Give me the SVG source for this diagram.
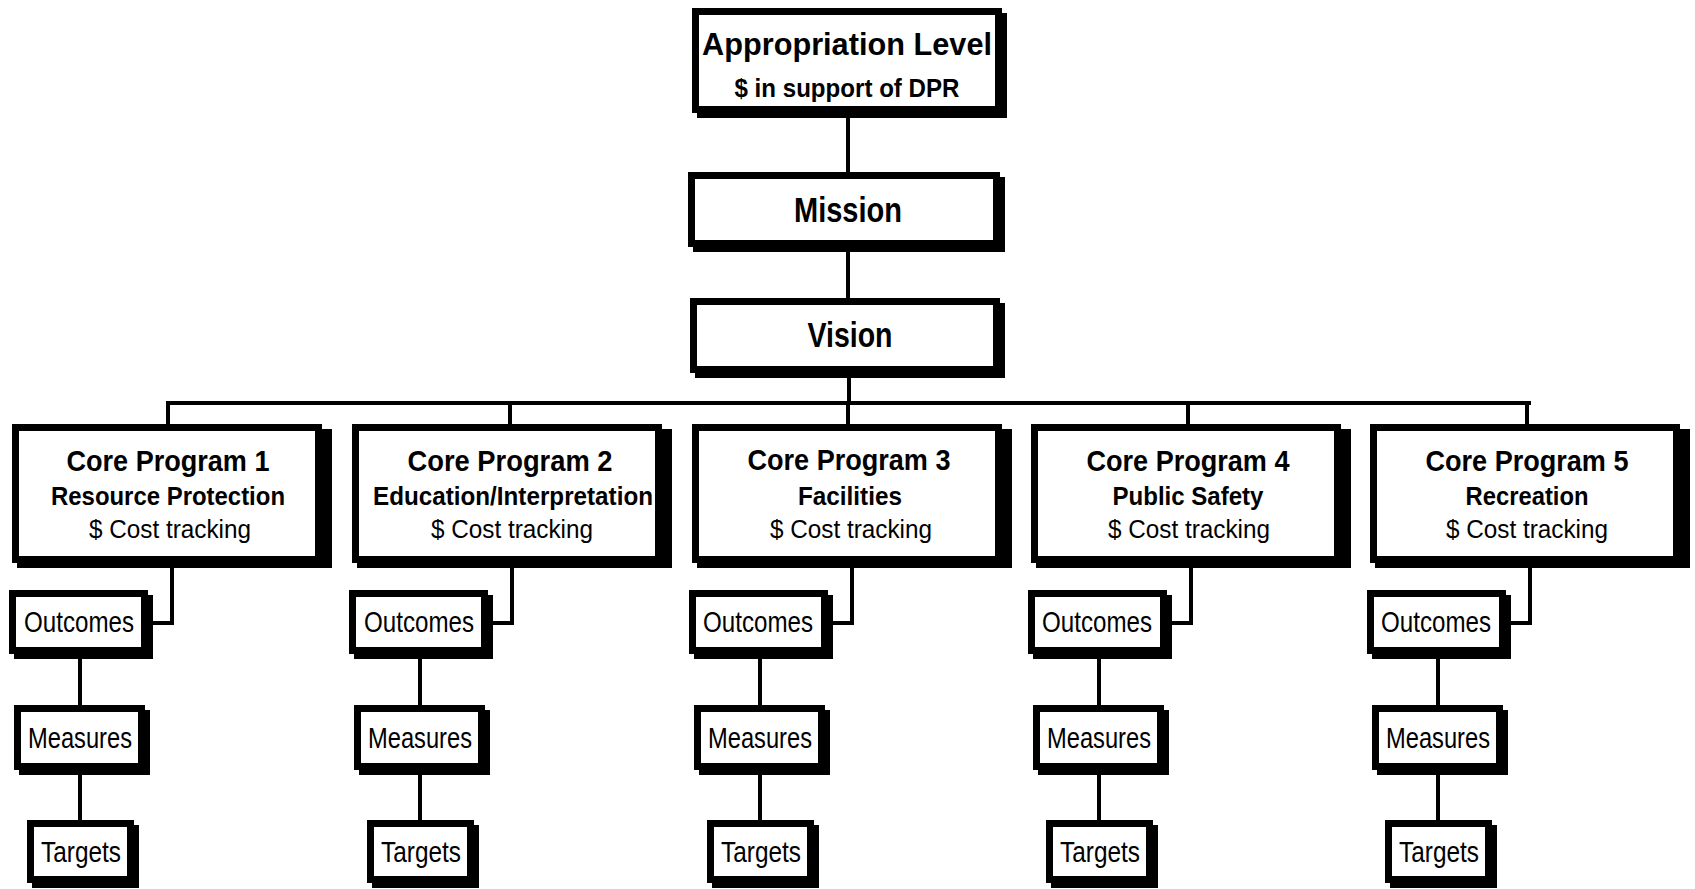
<svg xmlns="http://www.w3.org/2000/svg" width="1695" height="889" viewBox="0 0 1695 889">
<style>
.bg{fill:#fff}
.sh{fill:#000}
.bx{fill:#fff;stroke:#000;stroke-width:7}
.conn{stroke:#000;stroke-width:4;fill:none;stroke-linecap:square}
text{font-family:"Liberation Sans",Arial,sans-serif;fill:#000;text-anchor:middle}
.t1{font-size:32px;font-weight:bold}
.t2{font-size:26px;font-weight:bold}
.tm{font-size:35px;font-weight:bold}
.cp{font-size:30px;font-weight:bold}
.cs{font-size:26px;font-weight:bold}
.cr{font-size:26px}
.sm{font-size:29px}
</style>
<rect class="bg" x="0" y="0" width="1695" height="889"/>
<g id="connectors">
<path class="conn" d="M848 116V176M848 250V302M849 376V403M168 403H1529M168 403V428M510 403V428M848 403V428M1188 403V428M1527 403V428"/>
<path class="conn" d="M172 566V623H150M512 566V623H490M852 566V623H830M1191 566V623H1169M1530 566V623H1508"/>
<path class="conn" d="M80 657V707M80 773V822M420 657V707M420 773V822M760 657V707M760 773V822M1099 657V707M1099 773V822M1438 657V707M1438 773V822"/>
</g>
<g id="appropriation">
<rect class="sh" x="697" y="13" width="310" height="105"/>
<rect class="bx" x="695.5" y="11.5" width="303" height="98"/>
<text class="t1" x="847" y="55" textLength="290" lengthAdjust="spacingAndGlyphs">Appropriation Level</text>
<text class="t2" x="847" y="97" textLength="225" lengthAdjust="spacingAndGlyphs">$ in support of DPR</text>
</g>
<g id="mission">
<rect class="sh" x="693" y="177" width="312" height="75"/>
<rect class="bx" x="691.5" y="175.5" width="305" height="68"/>
<text class="tm" x="848" y="222" textLength="108" lengthAdjust="spacingAndGlyphs">Mission</text>
</g>
<g id="vision">
<rect class="sh" x="695" y="303" width="310" height="75"/>
<rect class="bx" x="693.5" y="301.5" width="303" height="68"/>
<text class="tm" x="850" y="347" textLength="85" lengthAdjust="spacingAndGlyphs">Vision</text>
</g>
<g id="cp1">
<rect class="sh" x="17" y="429" width="315" height="139"/>
<rect class="bx" x="15.5" y="427.5" width="303" height="132"/>
<text class="cp" x="168" y="471" textLength="203" lengthAdjust="spacingAndGlyphs">Core Program 1</text>
<text class="cs" x="168" y="505" textLength="234" lengthAdjust="spacingAndGlyphs">Resource Protection</text>
<text class="cr" x="170" y="538" textLength="162" lengthAdjust="spacingAndGlyphs">$ Cost tracking</text>
</g>
<g id="cp2">
<rect class="sh" x="357" y="429" width="315" height="139"/>
<rect class="bx" x="355.5" y="427.5" width="303" height="132"/>
<text class="cp" x="510" y="471" textLength="205" lengthAdjust="spacingAndGlyphs">Core Program 2</text>
<text class="cs" x="513" y="505" textLength="280" lengthAdjust="spacingAndGlyphs">Education/Interpretation</text>
<text class="cr" x="512" y="538" textLength="162" lengthAdjust="spacingAndGlyphs">$ Cost tracking</text>
</g>
<g id="cp3">
<rect class="sh" x="697" y="429" width="315" height="139"/>
<rect class="bx" x="695.5" y="427.5" width="303" height="132"/>
<text class="cp" x="849" y="470" textLength="203" lengthAdjust="spacingAndGlyphs">Core Program 3</text>
<text class="cs" x="850" y="505" textLength="104" lengthAdjust="spacingAndGlyphs">Facilities</text>
<text class="cr" x="851" y="538" textLength="162" lengthAdjust="spacingAndGlyphs">$ Cost tracking</text>
</g>
<g id="cp4">
<rect class="sh" x="1036" y="429" width="315" height="139"/>
<rect class="bx" x="1034.5" y="427.5" width="303" height="132"/>
<text class="cp" x="1188" y="471" textLength="203" lengthAdjust="spacingAndGlyphs">Core Program 4</text>
<text class="cs" x="1188" y="505" textLength="151" lengthAdjust="spacingAndGlyphs">Public Safety</text>
<text class="cr" x="1189" y="538" textLength="162" lengthAdjust="spacingAndGlyphs">$ Cost tracking</text>
</g>
<g id="cp5">
<rect class="sh" x="1375" y="429" width="315" height="139"/>
<rect class="bx" x="1373.5" y="427.5" width="303" height="132"/>
<text class="cp" x="1527" y="471" textLength="203" lengthAdjust="spacingAndGlyphs">Core Program 5</text>
<text class="cs" x="1527" y="505" textLength="123" lengthAdjust="spacingAndGlyphs">Recreation</text>
<text class="cr" x="1527" y="538" textLength="162" lengthAdjust="spacingAndGlyphs">$ Cost tracking</text>
</g>
<g id="outcomes1">
<rect class="sh" x="14" y="595" width="139" height="64"/>
<rect class="bx" x="12.5" y="593.5" width="132" height="57"/>
<text class="sm" x="79" y="632" textLength="110" lengthAdjust="spacingAndGlyphs">Outcomes</text>
</g>
<g id="measures1">
<rect class="sh" x="19" y="710" width="131" height="65"/>
<rect class="bx" x="17.5" y="708.5" width="124" height="58"/>
<text class="sm" x="80" y="748" textLength="104" lengthAdjust="spacingAndGlyphs">Measures</text>
</g>
<g id="targets1">
<rect class="sh" x="32" y="825" width="107" height="63"/>
<rect class="bx" x="30.5" y="823.5" width="100" height="56"/>
<text class="sm" x="81" y="862" textLength="80" lengthAdjust="spacingAndGlyphs">Targets</text>
</g>
<g id="outcomes2">
<rect class="sh" x="354" y="595" width="139" height="64"/>
<rect class="bx" x="352.5" y="593.5" width="132" height="57"/>
<text class="sm" x="419" y="632" textLength="110" lengthAdjust="spacingAndGlyphs">Outcomes</text>
</g>
<g id="measures2">
<rect class="sh" x="359" y="710" width="131" height="65"/>
<rect class="bx" x="357.5" y="708.5" width="124" height="58"/>
<text class="sm" x="420" y="748" textLength="104" lengthAdjust="spacingAndGlyphs">Measures</text>
</g>
<g id="targets2">
<rect class="sh" x="372" y="825" width="107" height="63"/>
<rect class="bx" x="370.5" y="823.5" width="100" height="56"/>
<text class="sm" x="421" y="862" textLength="80" lengthAdjust="spacingAndGlyphs">Targets</text>
</g>
<g id="outcomes3">
<rect class="sh" x="694" y="595" width="139" height="64"/>
<rect class="bx" x="692.5" y="593.5" width="132" height="57"/>
<text class="sm" x="758" y="632" textLength="110" lengthAdjust="spacingAndGlyphs">Outcomes</text>
</g>
<g id="measures3">
<rect class="sh" x="699" y="710" width="131" height="65"/>
<rect class="bx" x="697.5" y="708.5" width="124" height="58"/>
<text class="sm" x="760" y="748" textLength="104" lengthAdjust="spacingAndGlyphs">Measures</text>
</g>
<g id="targets3">
<rect class="sh" x="712" y="825" width="107" height="63"/>
<rect class="bx" x="710.5" y="823.5" width="100" height="56"/>
<text class="sm" x="761" y="862" textLength="80" lengthAdjust="spacingAndGlyphs">Targets</text>
</g>
<g id="outcomes4">
<rect class="sh" x="1033" y="595" width="139" height="64"/>
<rect class="bx" x="1031.5" y="593.5" width="132" height="57"/>
<text class="sm" x="1097" y="632" textLength="110" lengthAdjust="spacingAndGlyphs">Outcomes</text>
</g>
<g id="measures4">
<rect class="sh" x="1038" y="710" width="131" height="65"/>
<rect class="bx" x="1036.5" y="708.5" width="124" height="58"/>
<text class="sm" x="1099" y="748" textLength="104" lengthAdjust="spacingAndGlyphs">Measures</text>
</g>
<g id="targets4">
<rect class="sh" x="1051" y="825" width="107" height="63"/>
<rect class="bx" x="1049.5" y="823.5" width="100" height="56"/>
<text class="sm" x="1100" y="862" textLength="80" lengthAdjust="spacingAndGlyphs">Targets</text>
</g>
<g id="outcomes5">
<rect class="sh" x="1372" y="595" width="139" height="64"/>
<rect class="bx" x="1370.5" y="593.5" width="132" height="57"/>
<text class="sm" x="1436" y="632" textLength="110" lengthAdjust="spacingAndGlyphs">Outcomes</text>
</g>
<g id="measures5">
<rect class="sh" x="1377" y="710" width="131" height="65"/>
<rect class="bx" x="1375.5" y="708.5" width="124" height="58"/>
<text class="sm" x="1438" y="748" textLength="104" lengthAdjust="spacingAndGlyphs">Measures</text>
</g>
<g id="targets5">
<rect class="sh" x="1390" y="825" width="107" height="63"/>
<rect class="bx" x="1388.5" y="823.5" width="100" height="56"/>
<text class="sm" x="1439" y="862" textLength="80" lengthAdjust="spacingAndGlyphs">Targets</text>
</g>
</svg>
